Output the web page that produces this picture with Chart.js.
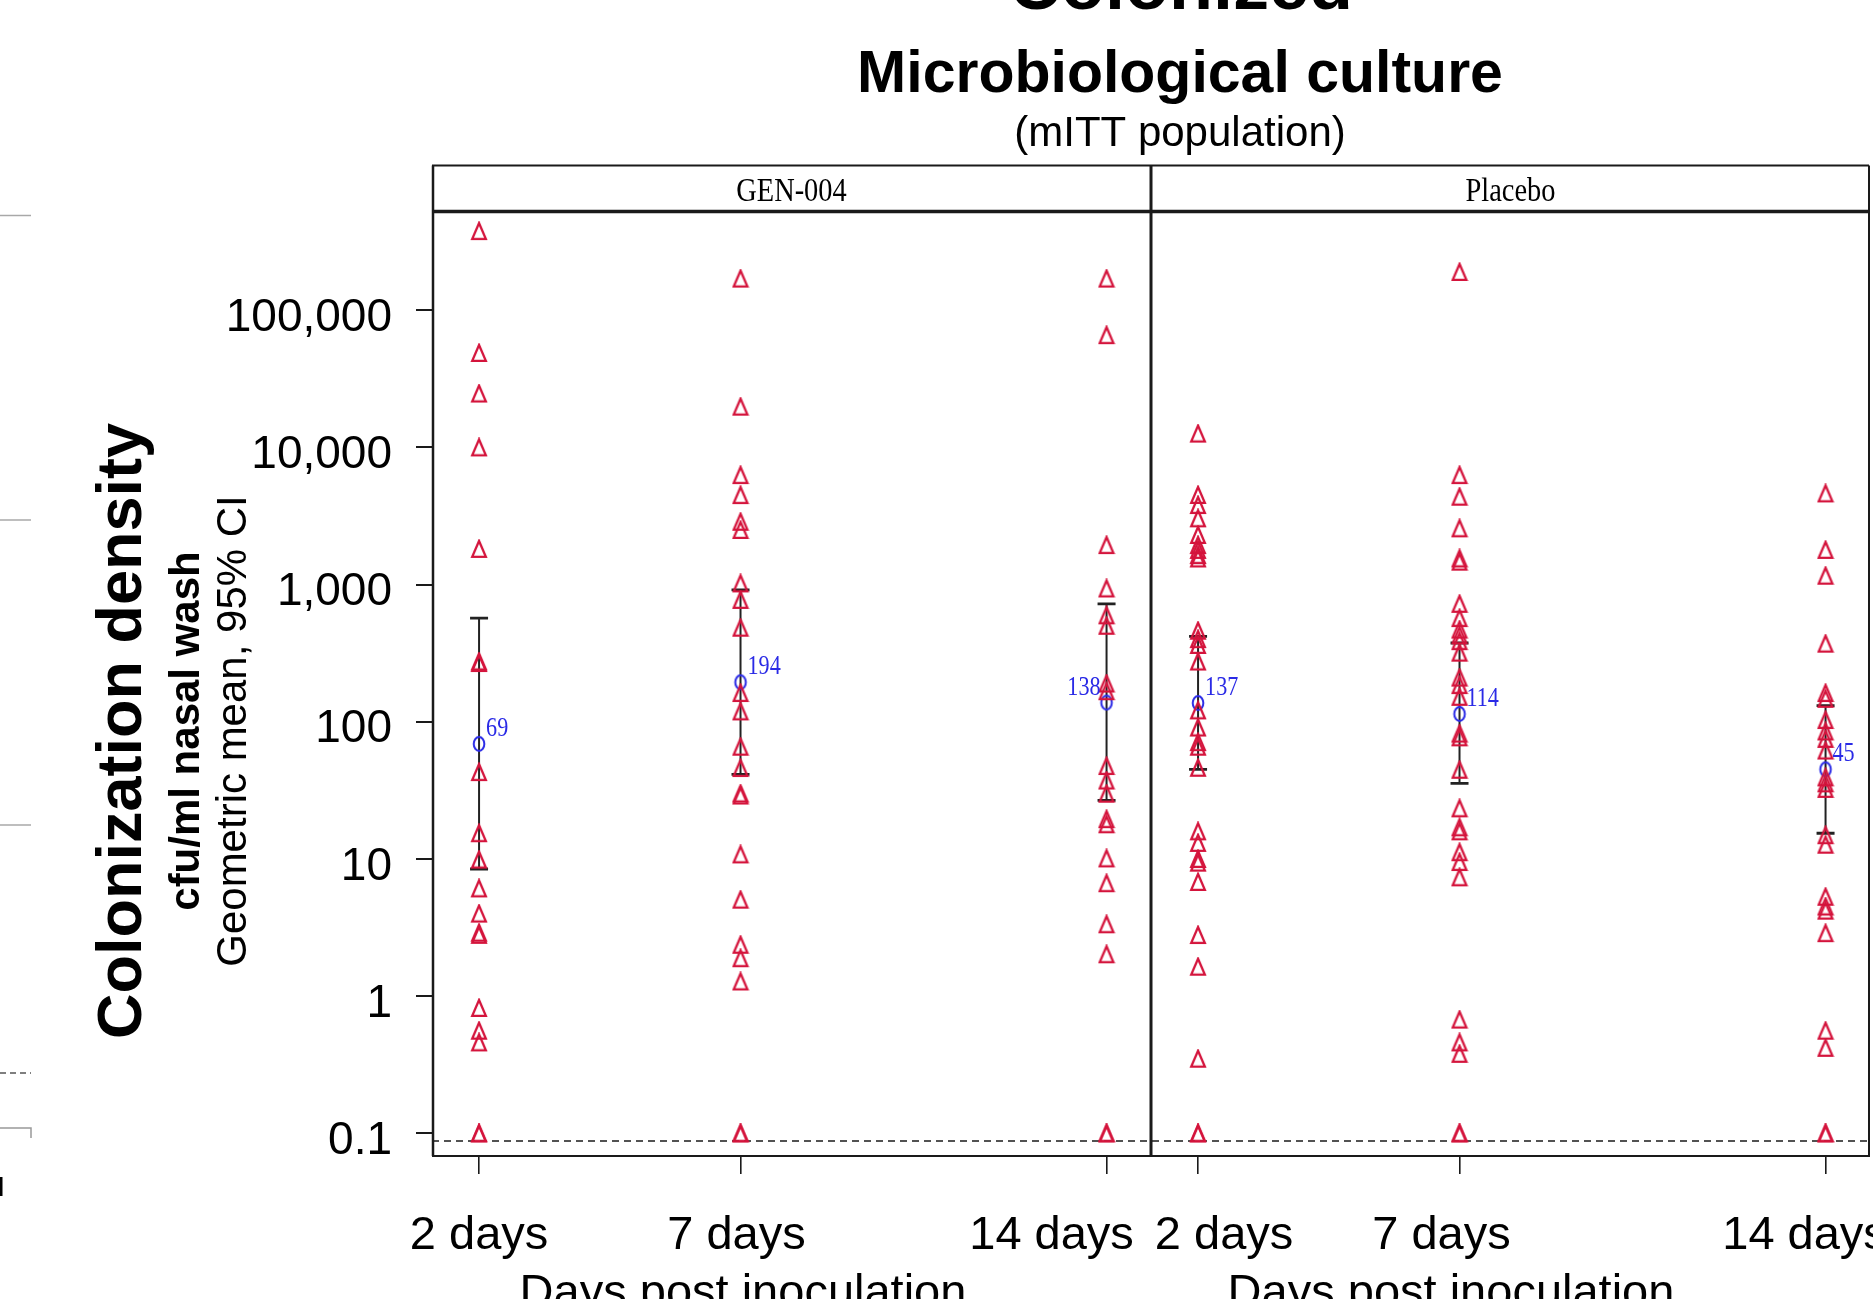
<!DOCTYPE html>
<html>
<head>
<meta charset="utf-8">
<script src="https://cdn.jsdelivr.net/npm/chart.js@4.4.1/dist/chart.umd.min.js"></script>
<style>
html,body{margin:0;padding:0;background:#fff;overflow:hidden}
#wrap{width:1873px;height:1299px;position:relative}
canvas{display:block}
</style>
</head>
<body>
<div id="wrap"><canvas id="c" width="1873" height="1299"></canvas></div>
<script>
// ---------------- DATA ----------------
const panels = ['GEN-004', 'Placebo'];
const days = [2, 7, 14];
const dayLabels = ['2 days', '7 days', '14 days'];
const xAxisTitle = 'Days post inoculation';
const yTickValues = [0.1, 1, 10, 100, 1000, 10000, 100000];
const yTickLabels = ['0.1', '1', '10', '100', '1,000', '10,000', '100,000'];

// individual subjects, cfu/ml
const gen2  = [377000, 48800, 24700, 10000, 1820, 275, 268, 43, 15.4, 9.9, 6.1, 4.0, 2.9, 2.8, 0.82, 0.56, 0.46, 0.1, 0.1];
const gen7  = [170000, 19800, 6280, 4490, 2870, 2500, 1020, 773, 485, 162, 119, 65.8, 46, 30, 29, 10.8, 5.05, 2.37, 1.89, 1.28, 0.1, 0.1];
const gen14 = [170000, 65800, 1940, 937, 597, 501, 190, 167, 47.6, 37.3, 29.9, 19.5, 17.9, 10.1, 6.66, 3.34, 2.02, 0.1, 0.1];
const pla2  = [12600, 4500, 3800, 3040, 2300, 1940, 1790, 1640, 1550, 461, 400, 363, 275, 121, 90.8, 71, 65.8, 46.2, 15.9, 13.1, 10.0, 9.4, 6.8, 2.79, 1.64, 0.35, 0.1, 0.1];
const pla7  = [190000, 6280, 4370, 2570, 1550, 1470, 724, 570, 470, 427, 387, 319, 210, 185, 152, 82, 77, 44.7, 23.4, 17, 15.9, 11.2, 9.5, 7.35, 0.675, 0.46, 0.38, 0.1, 0.1];
const pla14 = [4620, 1790, 1160, 371, 162, 147, 103, 85, 75, 61.7, 39.3, 35.6, 32.4, 14.9, 12.7, 5.3, 4.5, 4.2, 2.88, 0.56, 0.42, 0.1, 0.1];

// geometric means and 95% CI
const genMeans = [69, 194, 138];
const genCILow = [8.45, 41.3, 26.7];
const genCIHigh = [570, 914, 724];
const plaMeans = [137, 114, 45];
const plaCILow = [45, 35.6, 15.4];
const plaCIHigh = [419, 375, 131];

const lloq = 0.088;

// ---------------- LAYOUT / STYLE ----------------
const X_MIN = 1.1, PANEL_SPAN = 13.75;
const RED = '#d4143c', BLUE = '#2a2ae6', INK = '#1a1a1a';
const SANS = '"Liberation Sans", Arial, sans-serif';
const SERIF = '"Liberation Serif", "Times New Roman", serif';
const tickLabelShift = [0, -4, -55, 26, -18, -21];
const meanLabelSide = [['right', 'right', 'left'], ['right', 'right', 'right']];

function xOf(p, d) { return d + p * PANEL_SPAN; }

const subjects = [[gen2, gen7, gen14], [pla2, pla7, pla14]];
const meansAll = [genMeans, plaMeans];
const ciLowAll = [genCILow, plaCILow];
const ciHighAll = [genCIHigh, plaCIHigh];

function makeTriangle() {
  const c = document.createElement('canvas');
  c.width = 18; c.height = 20;
  const g = c.getContext('2d');
  g.strokeStyle = RED; g.lineWidth = 2.3; g.lineJoin = 'miter';
  g.beginPath(); g.moveTo(9, 2); g.lineTo(15.8, 17.8); g.lineTo(2.2, 17.8); g.closePath(); g.stroke();
  return c;
}
function makeEllipse() {
  const c = document.createElement('canvas');
  c.width = 16; c.height = 20;
  const g = c.getContext('2d');
  g.strokeStyle = BLUE; g.lineWidth = 2;
  g.beginPath(); g.ellipse(8, 10, 5.3, 7, 0, 0, Math.PI * 2); g.stroke();
  return c;
}
const triImg = makeTriangle();
const ellImg = makeEllipse();

const datasets = [];
panels.forEach((p, pi) => {
  const pts = [];
  days.forEach((d, di) => subjects[pi][di].forEach(v => pts.push({ x: xOf(pi, d), y: v })));
  datasets.push({ label: p + ' subjects', data: pts, pointStyle: triImg, pointRadius: 8, showLine: false });
});
panels.forEach((p, pi) => {
  datasets.push({ label: p + ' geometric mean', data: days.map((d, di) => ({ x: xOf(pi, d), y: meansAll[pi][di] })),
    pointStyle: ellImg, pointRadius: 8, showLine: false, _meanPanel: pi });
});

const decorPlugin = {
  id: 'decor',
  beforeDatasetsDraw(chart) {
    const { ctx, chartArea: a, scales: { x: xs, y: ys } } = chart;
    ctx.save();
    // LLOQ dashed line
    const yl = ys.getPixelForValue(lloq);
    ctx.strokeStyle = INK; ctx.lineWidth = 1.6; ctx.setLineDash([7, 5]);
    ctx.beginPath(); ctx.moveTo(a.left, yl); ctx.lineTo(a.right, yl); ctx.stroke();
    ctx.setLineDash([]);
    // error bars
    ctx.strokeStyle = '#222';
    panels.forEach((p, pi) => days.forEach((d, di) => {
      const x = xs.getPixelForValue(xOf(pi, d));
      const y1 = ys.getPixelForValue(ciLowAll[pi][di]);
      const y2 = ys.getPixelForValue(ciHighAll[pi][di]);
      ctx.lineWidth = 2;
      ctx.beginPath(); ctx.moveTo(x, y1); ctx.lineTo(x, y2); ctx.stroke();
      ctx.lineWidth = 2.8;
      ctx.beginPath(); ctx.moveTo(x - 9, y1); ctx.lineTo(x + 9, y1);
      ctx.moveTo(x - 9, y2); ctx.lineTo(x + 9, y2); ctx.stroke();
    }));
    ctx.restore();
  },
  afterDatasetsDraw(chart) {
    const { ctx } = chart;
    ctx.save();
    chart.data.datasets.forEach((ds, i) => {
      if (ds._meanPanel === undefined) return;
      const pi = ds._meanPanel;
      chart.getDatasetMeta(i).data.forEach((pt, di) => {
        const side = meanLabelSide[pi][di];
        ctx.save();
        ctx.font = '27px ' + SERIF; ctx.fillStyle = BLUE; ctx.textBaseline = 'middle';
        ctx.translate(side === 'right' ? pt.x + 7 : pt.x - 6, pt.y - 15);
        ctx.scale(0.82, 1);
        ctx.textAlign = side === 'right' ? 'left' : 'right';
        ctx.fillText(String(meansAll[pi][di]), 0, 0);
        ctx.restore();
      });
    });
    ctx.restore();
  },
  afterDraw(chart) {
    const { ctx, chartArea: a, scales: { x: xs } } = chart;
    const stripTop = 165.5;
    const xDiv = xs.getPixelForValue(X_MIN + PANEL_SPAN);
    ctx.save();
    ctx.strokeStyle = INK;
    // strip top
    ctx.lineWidth = 2;
    ctx.beginPath(); ctx.moveTo(a.left, stripTop); ctx.lineTo(a.right - 1, stripTop); ctx.stroke();
    // strip bottom (thick)
    ctx.lineWidth = 3.5;
    ctx.beginPath(); ctx.moveTo(a.left, a.top + 0.5); ctx.lineTo(a.right - 1, a.top + 0.5); ctx.stroke();
    // left, right borders
    ctx.lineWidth = 2.5;
    ctx.beginPath(); ctx.moveTo(a.left + 1, stripTop); ctx.lineTo(a.left + 1, a.bottom); ctx.stroke();
    ctx.lineWidth = 2;
    ctx.beginPath(); ctx.moveTo(a.right - 1, stripTop); ctx.lineTo(a.right - 1, a.bottom); ctx.stroke();
    // bottom
    ctx.lineWidth = 2;
    ctx.beginPath(); ctx.moveTo(a.left, a.bottom); ctx.lineTo(a.right, a.bottom); ctx.stroke();
    // divider
    ctx.lineWidth = 3;
    ctx.beginPath(); ctx.moveTo(xDiv, stripTop); ctx.lineTo(xDiv, a.bottom); ctx.stroke();

    // strip labels
    const centers = [(a.left + xDiv) / 2, (xDiv + a.right) / 2];
    panels.forEach((p, pi) => {
      ctx.save();
      ctx.font = '33px ' + SERIF; ctx.fillStyle = '#000'; ctx.textAlign = 'center'; ctx.textBaseline = 'alphabetic';
      ctx.translate(centers[pi], 200.5); ctx.scale(0.86, 1);
      ctx.fillText(p, 0, 0);
      ctx.restore();
    });

    // x tick labels
    ctx.fillStyle = '#000'; ctx.font = '47px ' + SANS; ctx.textAlign = 'center'; ctx.textBaseline = 'alphabetic';
    let k = 0;
    panels.forEach((p, pi) => days.forEach((d, di) => {
      const x = xs.getPixelForValue(xOf(pi, d)) + tickLabelShift[k++];
      ctx.fillText(dayLabels[di], x, 1249);
    }));
    // x axis titles (per panel)
    ctx.fillText(xAxisTitle, 743, 1307);
    ctx.fillText(xAxisTitle, 1451, 1307);

    // titles
    ctx.font = 'bold 72px ' + SANS; ctx.fillText('Colonized', 1181, 9);
    ctx.font = 'bold 59px ' + SANS; ctx.fillText('Microbiological culture', 1180, 92);
    ctx.font = '42px ' + SANS; ctx.fillText('(mITT population)', 1180, 146);

    // y axis titles
    const yTitles = [
      ['bold 63px ' + SANS, 'Colonization density', 141],
      ['bold 42px ' + SANS, 'cfu/ml nasal wash', 199],
      ['42px ' + SANS, 'Geometric mean, 95% CI', 246]
    ];
    yTitles.forEach(([f, t, bx]) => {
      ctx.save(); ctx.font = f; ctx.translate(bx, 731); ctx.rotate(-Math.PI / 2);
      ctx.textAlign = 'center'; ctx.fillText(t, 0, 0); ctx.restore();
    });

    // remnants of a neighbouring figure at the left edge
    ctx.strokeStyle = '#a8a8a8'; ctx.lineWidth = 1.5;
    [215.5, 520, 825].forEach(y => { ctx.beginPath(); ctx.moveTo(0, y); ctx.lineTo(31, y); ctx.stroke(); });
    ctx.strokeStyle = '#555'; ctx.setLineDash([6, 4]);
    ctx.beginPath(); ctx.moveTo(0, 1073); ctx.lineTo(31, 1073); ctx.stroke();
    ctx.setLineDash([]); ctx.strokeStyle = '#999';
    ctx.beginPath(); ctx.moveTo(0, 1128); ctx.lineTo(31, 1128); ctx.lineTo(31, 1138); ctx.stroke();
    ctx.fillStyle = '#000'; ctx.fillRect(0, 1177, 2.5, 19);
    ctx.restore();
  }
};

new Chart(document.getElementById('c'), {
  type: 'scatter',
  data: { datasets },
  options: {
    responsive: false,
    animation: false,
    devicePixelRatio: 1,
    layout: { autoPadding: false, padding: { top: 211, right: 3, left: 0, bottom: 0 } },
    plugins: { legend: { display: false }, tooltip: { enabled: false } },
    scales: {
      x: {
        type: 'linear', min: X_MIN, max: X_MIN + 2 * PANEL_SPAN,
        afterBuildTicks: s => { s.ticks = panels.flatMap((p, pi) => days.map(d => ({ value: xOf(pi, d) }))); },
        afterFit: s => { s.height = 143; s.paddingLeft = 0; s.paddingRight = 0; },
        ticks: { display: false },
        grid: { drawOnChartArea: false, drawTicks: true, tickLength: 18, color: INK, lineWidth: 1.6 },
        border: { display: false }
      },
      y: {
        type: 'logarithmic', min: Math.pow(10, -1.165), max: Math.pow(10, 5.723),
        afterBuildTicks: s => { s.ticks = yTickValues.map(v => ({ value: v })); },
        afterFit: s => { s.width = 432; s.paddingTop = 0; s.paddingBottom = 0; },
        ticks: {
          autoSkip: false,
          callback: v => { const i = yTickValues.indexOf(v); return i >= 0 ? yTickLabels[i] : ''; },
          font: { family: SANS, size: 46 }, color: '#000', padding: 24, labelOffset: 8
        },
        grid: { drawOnChartArea: false, drawTicks: true, tickLength: 16, color: INK, lineWidth: 2 },
        border: { display: false }
      }
    }
  },
  plugins: [decorPlugin]
});
</script>
</body>
</html>
